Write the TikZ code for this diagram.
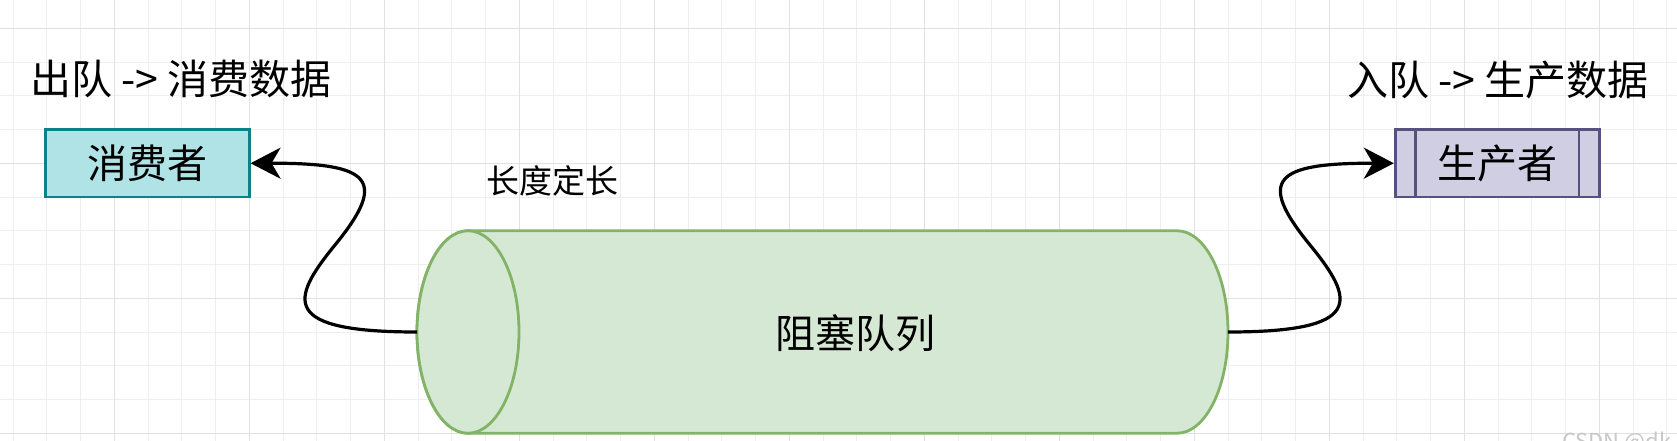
\documentclass[tikz,border=0pt]{standalone}
\usepackage{fontspec}
\setmainfont{Noto Sans CJK SC}
\usetikzlibrary{arrows.meta}
\definecolor{consfill}{HTML}{B0E3E6}
\definecolor{consline}{HTML}{0E8088}
\definecolor{prodfill}{HTML}{D0CEE2}
\definecolor{prodline}{HTML}{56517E}
\definecolor{qfill}{HTML}{D5E8D4}
\definecolor{qline}{HTML}{82B366}
\definecolor{gridminor}{HTML}{EEEEEE}
\definecolor{gridmajor}{HTML}{E1E1E1}
\definecolor{wmark}{HTML}{C8C8C8}
\begin{document}
\begin{tikzpicture}[x=1pt,y=-1pt,
  minorline/.style={gridminor, line width=1pt},
  majorline/.style={gridmajor, line width=1pt},
  hdr/.style={inner sep=0pt, font=\fontsize{41pt}{47pt}\selectfont},
  boxlabel/.style={font=\fontsize{40pt}{46pt}\selectfont},
  consbox/.style={draw=consline, fill=consfill, line width=2.7pt, minimum width=204pt, minimum height=67.5pt, inner sep=0pt, boxlabel},
  prodbox/.style={draw=prodline, fill=prodfill, line width=2.7pt, minimum width=204pt, minimum height=67.5pt, inner sep=0pt, boxlabel},
  qbody/.style={draw=qline, fill=qfill, line width=2.8pt},
  conn/.style={line width=3.2pt, black, -{Stealth[length=30pt,width=31pt,inset=9pt]}}
]
\useasboundingbox (0,0) rectangle (1677,441);
\clip (0,0) rectangle (1677,441);
\fill[white] (0,0) rectangle (1677,441);
% grid
\foreach \k in {0,...,49} {
  \pgfmathsetmacro\gx{13.05+33.75*\k}
  \draw[minorline] (\gx,0) -- (\gx,441);
}
\foreach \k in {0,...,13} {
  \pgfmathsetmacro\gy{28.3+33.75*\k}
  \draw[minorline] (0,\gy) -- (1677,\gy);
}
\foreach \k in {3,7,...,47} {
  \pgfmathsetmacro\gx{13.05+33.75*\k}
  \draw[majorline] (\gx,0) -- (\gx,441);
}
\foreach \k in {0,4,8,12} {
  \pgfmathsetmacro\gy{28.3+33.75*\k}
  \draw[majorline] (0,\gy) -- (1677,\gy);
}
% headers
\node[hdr, anchor=west] (hleft) at (30,79) {出队 -> 消费数据};
\node[hdr, anchor=east] (hright) at (1649,80) {入队 -> 生产数据};
% boxes
\node[consbox] (cons) at (147.2,163.25) {消费者};
\node[prodbox] (prod) at (1497.2,163.25) {生产者};
\draw[prodline, line width=2.7pt] ([xshift=21.5pt]prod.north west) -- ([xshift=21.5pt]prod.south west);
\draw[prodline, line width=2.7pt] ([xshift=-21.5pt]prod.north east) -- ([xshift=-21.5pt]prod.south east);
% queue cylinder
\draw[qbody] (468,230.75) -- (1177,230.75)
  arc[start angle=90, end angle=-90, x radius=51pt, y radius=101.25pt]
  -- (468,433.25)
  arc[start angle=-90, end angle=-270, x radius=51pt, y radius=101.25pt] -- cycle;
\draw[qbody] (468,332) ellipse [x radius=51pt, y radius=101.25pt];
\coordinate (qL) at (417,332);
\coordinate (qR) at (1228,332);
\node[boxlabel, inner sep=0pt] (queue) at (855,333) {阻塞队列};
\node[inner sep=0pt, font=\fontsize{33pt}{38pt}\selectfont] (len) at (552,181) {长度定长};
% connectors
\draw[conn] (qL) .. controls (280,332) and (290,300) .. (335,245)
  .. controls (389,179) and (370,163) .. (cons.east);
\draw[conn] (qR) .. controls (1365,332) and (1355,300) .. (1310,245)
  .. controls (1256,179) and (1275,163) .. (prod.west);
% watermark
\node[inner sep=0pt, anchor=north west, text=wmark, font=\fontsize{22pt}{26pt}\selectfont] (wm) at (1562,432) {CSDN @dk};
\end{tikzpicture}
\end{document}
